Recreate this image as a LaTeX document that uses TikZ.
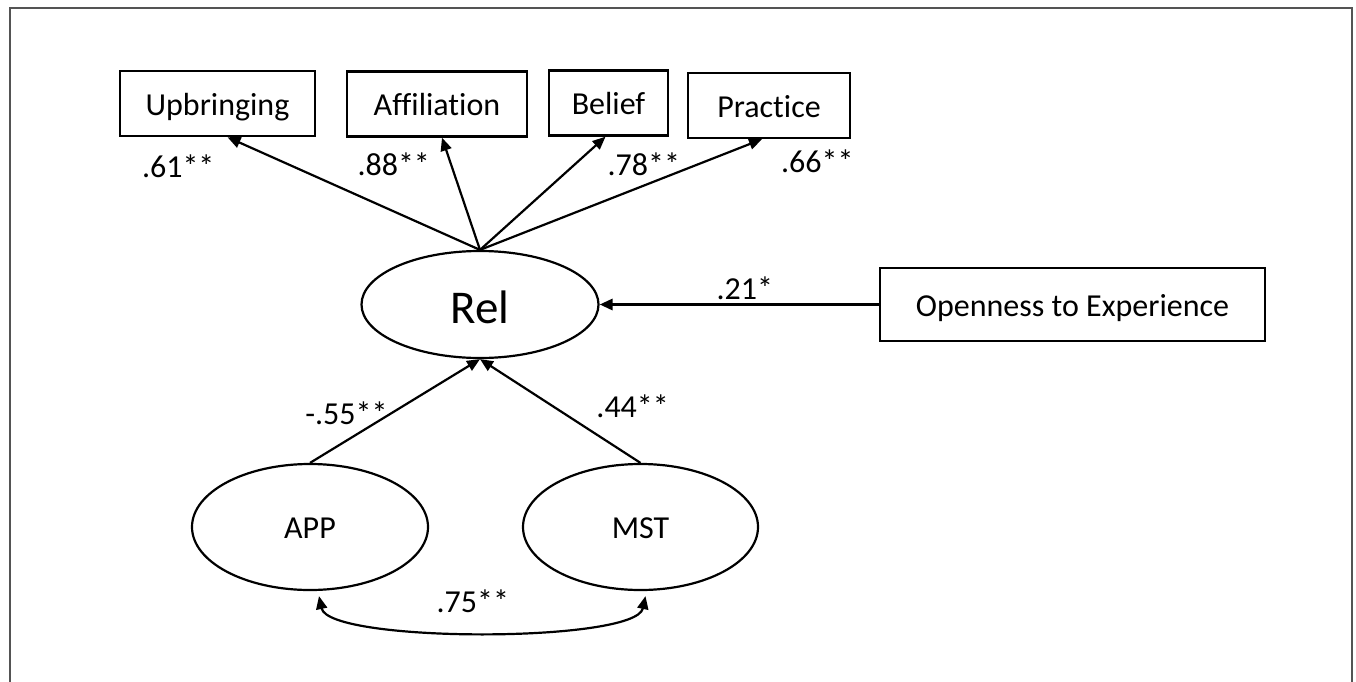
\documentclass[tikz,border=0pt]{standalone}
\usepackage{fontspec}
\setmainfont{Carlito}[Ligatures={NoCommon}]
\usetikzlibrary{shapes.geometric,arrows.meta}

\begin{document}
\begin{tikzpicture}[x=1pt,y=-1pt,>={Triangle[length=13pt,width=11pt]},->,line width=2.2pt,
	obs/.style={draw,rectangle,line width=2.4pt,inner sep=0pt,minimum height=65pt,font=\fontsize{32}{38}\selectfont,text height=24pt,text depth=0pt},
	latent/.style={draw,ellipse,line width=2.2pt,inner sep=0pt,minimum width=236pt,minimum height=126pt,font=\fontsize{32}{38}\selectfont,text height=22pt,text depth=0pt},
	lbl/.style={font=\fontsize{32}{38}\selectfont,inner sep=3pt}]

\useasboundingbox (0,0) rectangle (1356,682);
\draw[-,black!67] (10,700) -- (10,8) -- (1352,8) -- (1352,700);

\node[obs,minimum width=195pt](up) at (217.5,103.5){Upbringing};
\node[obs,minimum width=180pt](aff) at (437,104){Affiliation};
\node[obs,minimum width=119pt](bel) at (608.5,103){Belief};
\node[obs,minimum width=162pt](pra) at (769,105.5){Practice};
\node[latent,minimum width=237pt,minimum height=107pt,font=\fontsize{47}{56}\selectfont,text height=37pt](rel) at (480,304.5){Rel};
\node[obs,minimum width=385pt,minimum height=73pt](ope) at (1072.5,304.5){Openness to Experience};
\node[latent](app) at (310,527){APP};
\node[latent,minimum width=235pt](mst)[right of=app,node distance=330.5pt]{MST};

\path(rel.north)edge node[lbl,at end,anchor=north east,xshift=-9,yshift=-13]{.61**}([xshift=10]up.south)
	(rel.north)edge node[lbl,at end,anchor=north east,xshift=-8,yshift=-11]{.88**}([xshift=5]aff.south)
	(rel.north)edge node[lbl,at end,anchor=north west,xshift=-2,yshift=-12]{.78**}([xshift=-3]bel.south)
	(rel.north)edge node[lbl,at end,anchor=north west,xshift=15,yshift=-6]{.66**}([xshift=-7]pra.south)
	(ope)edge[line width=3pt] node[lbl,above,pos=0.48]{.21*}(rel)
	(app.north)edge node[lbl,left,pos=0.48]{-.55**}(rel.south)
	(mst.north)edge node[lbl,above right,pos=0.3,yshift=10]{.44**}(rel.south);

\draw[<->]([xshift=9,yshift=-5]app.south) .. controls +(10,47) and +(-10,47) .. ([xshift=5,yshift=-5]mst.south) node[lbl,pos=0.48,above=14pt]{.75**};

\end{tikzpicture}
\end{document}
